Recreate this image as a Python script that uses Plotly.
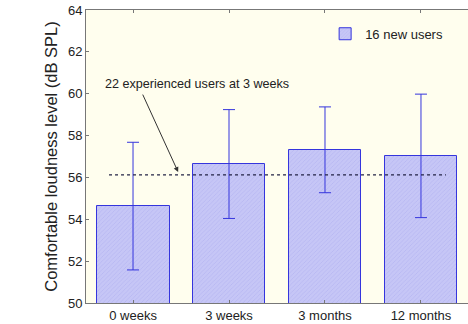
import plotly.graph_objects as go

# Comfortable loudness level of new hearing-aid users over time
categories = ["0 weeks", "3 weeks", "3 months", "12 months"]
means = [54.63, 56.64, 57.32, 57.03]
errors = [3.05, 2.6, 2.05, 2.95]
reference_level = 56.12  # 22 experienced users at 3 weeks
positions = list(range(len(categories)))

FONT = "Liberation Sans, Arial, sans-serif"
BLUE = "#3535DD"

fig = go.Figure()

fig.add_trace(go.Bar(
    x=positions,
    y=means,
    width=0.76,
    name="16 new users",
    marker=dict(
        color="#C6C6F6",
        line=dict(color=BLUE, width=1),
        pattern=dict(shape="/", size=3, solidity=0.25, fgcolor="#A8A8EE"),
    ),
    error_y=dict(type="data", array=errors, visible=True,
                 color=BLUE, thickness=1, width=6),
))

fig.add_trace(go.Scatter(
    x=[-0.25, 3.26],
    y=[reference_level, reference_level],
    mode="lines",
    line=dict(color="#222244", width=1.2, dash="3px,3px"),
    showlegend=False,
    hoverinfo="skip",
))

fig.add_annotation(
    x=0.667, y=60.46, xref="x", yref="y",
    text="22 experienced users at 3 weeks",
    showarrow=False,
    font=dict(family=FONT, size=12.6, color="#222222"),
)
fig.add_annotation(
    x=0.47, y=56.26, xref="x", yref="y",
    ax=0.094, ay=60.03, axref="x", ayref="y",
    text="",
    showarrow=True, arrowhead=2, arrowsize=1, arrowwidth=1,
    arrowcolor="#333333",
)

fig.update_layout(
    width=468, height=324,
    margin=dict(l=86, r=0, t=10, b=21),
    paper_bgcolor="white",
    plot_bgcolor="#FFFEEE",
    font=dict(family=FONT, size=13, color="#222222"),
    bargap=0,
    showlegend=True,
    legend=dict(
        x=0.626, y=0.97, xanchor="left", yanchor="top",
        bgcolor="rgba(0,0,0,0)",
        font=dict(family=FONT, size=13, color="#222222"),
    ),
    xaxis=dict(
        range=[-0.49, 3.49],
        tickmode="array", tickvals=positions, ticktext=categories,
        showgrid=False, zeroline=False,
        showline=True, linecolor="#777777", linewidth=1,
        mirror="ticks", ticks="inside", ticklen=3, tickcolor="#777777",
        tickfont=dict(size=13),
    ),
    yaxis=dict(
        range=[50, 64],
        tickmode="array", tickvals=[50, 52, 54, 56, 58, 60, 62, 64],
        showgrid=False, zeroline=False,
        showline=True, linecolor="#777777", linewidth=1,
        ticks="inside", ticklen=3, tickcolor="#777777",
        tickfont=dict(size=13),
        title=dict(text="Comfortable loudness level (dB SPL)",
                   font=dict(size=16.5), standoff=6),
    ),
)

fig.write_html("out.html")
